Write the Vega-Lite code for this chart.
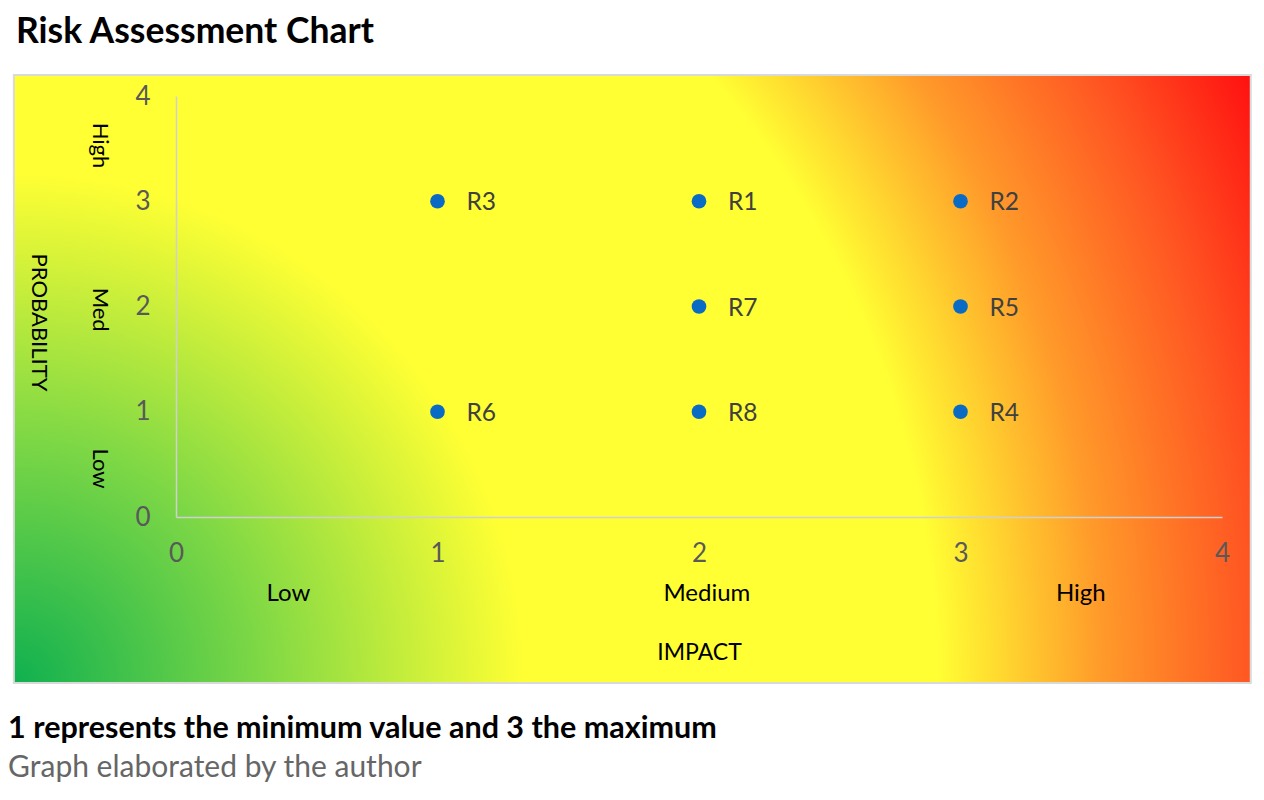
{
  "$schema": "https://vega.github.io/schema/vega-lite/v6.json",
  "width": 1046,
  "height": 421,
  "autosize": {"type": "none"},
  "padding": {"left": 176, "top": 96, "right": 42, "bottom": 283},
  "background": "white",
  "title": {"text": "Risk Assessment Chart", "anchor": "start", "frame": "group", "dx": -160, "dy": 45, "offset": 40, "baseline": "alphabetic", "fontSize": 35.5, "font": "Lato", "fontWeight": "bold", "color": "black"},
  "config": {"font": "Lato", "view": {"stroke": null}},
  "datasets": {
    "risks": [
      {"risk": "R1", "impact": 2, "probability": 3},
      {"risk": "R2", "impact": 3, "probability": 3},
      {"risk": "R3", "impact": 1, "probability": 3},
      {"risk": "R4", "impact": 3, "probability": 1},
      {"risk": "R5", "impact": 3, "probability": 2},
      {"risk": "R6", "impact": 1, "probability": 1},
      {"risk": "R7", "impact": 2, "probability": 2},
      {"risk": "R8", "impact": 2, "probability": 1}
    ],
    "impactLevels": [
      {"label": "Low", "impact": 0.43, "probability": -0.73},
      {"label": "Medium", "impact": 2.03, "probability": -0.73},
      {"label": "High", "impact": 3.46, "probability": -0.73}
    ],
    "probabilityLevels": [
      {"label": "High", "impact": -0.29, "probability": 3.53},
      {"label": "Med", "impact": -0.29, "probability": 1.97},
      {"label": "Low", "impact": -0.29, "probability": 0.46}
    ],
    "notes": [
      {"note": "1 represents the minimum value and 3 the maximum", "impact": -0.642, "probability": -2.014},
      {"note": "Graph elaborated by the author", "impact": -0.642, "probability": -2.385}
    ]
  },
  "layer": [
    {
      "data": {"values": [{}]},
      "mark": {
        "type": "rect",
        "stroke": "#D9D9D9",
        "strokeWidth": 2,
        "fill": {
          "gradient": "radial",
          "x1": 0, "y1": 0.7458, "r1": 0,
          "x2": 0, "y2": 0.7458, "r2": 1.114,
          "stops": [
            {"offset": 0, "color": "#0FB050"},
            {"offset": 0.18, "color": "#7FD845"},
            {"offset": 0.37, "color": "#FFFF33"},
            {"offset": 0.67, "color": "#FFFF33"},
            {"offset": 0.79, "color": "#FF9A2A"},
            {"offset": 0.9, "color": "#FF5522"},
            {"offset": 1, "color": "#FF1010"}
          ]
        }
      },
      "encoding": {
        "x": {"datum": -0.62, "type": "quantitative", "scale": {"domain": [0, 4], "nice": false}},
        "x2": {"datum": 4.11},
        "y": {"datum": 4.2, "type": "quantitative", "scale": {"domain": [0, 4], "nice": false}},
        "y2": {"datum": -1.577}
      }
    },
    {
      "data": {"name": "risks"},
      "mark": {"type": "point", "filled": true, "shape": "circle", "size": 215, "color": "#0A6BC5", "opacity": 1},
      "encoding": {
        "x": {
          "field": "impact", "type": "quantitative",
          "scale": {"domain": [0, 4], "nice": false},
          "axis": {
            "zindex": 1,
            "values": [0, 1, 2, 3, 4], "format": "d", "ticks": false, "grid": false, "labelFlush": false,
            "domainColor": "#D0D0D0", "domainWidth": 1.5,
            "labelFontSize": 26, "labelColor": "#595959", "labelPadding": 23, "labelFont": "Lato",
            "title": "IMPACT", "titleFontSize": 23, "titleFontWeight": "normal", "titleColor": "black", "titleFont": "Lato",
            "titleY": 135, "titleBaseline": "middle"
          }
        },
        "y": {
          "field": "probability", "type": "quantitative",
          "scale": {"domain": [0, 4], "nice": false},
          "axis": {
            "zindex": 1,
            "values": [0, 1, 2, 3, 4], "format": "d", "ticks": false, "grid": false, "labelFlush": false,
            "domainColor": "#D0D0D0", "domainWidth": 1.5,
            "labelFontSize": 26, "labelColor": "#595959", "labelPadding": 26, "labelFont": "Lato",
            "title": "PROBABILITY", "titleFontSize": 22, "titleFontWeight": "normal", "titleColor": "black", "titleFont": "Lato",
            "titleAngle": 90, "titleX": -138, "titleY": 226, "titleBaseline": "middle"
          }
        }
      }
    },
    {
      "data": {"name": "risks"},
      "mark": {"type": "text", "align": "left", "baseline": "middle", "dx": 29, "dy": 2, "fontSize": 24.5, "color": "#404040", "font": "Lato"},
      "encoding": {
        "x": {"field": "impact", "type": "quantitative"},
        "y": {"field": "probability", "type": "quantitative"},
        "text": {"field": "risk"}
      }
    },
    {
      "data": {"name": "impactLevels"},
      "mark": {"type": "text", "align": "center", "baseline": "middle", "fontSize": 24, "color": "black", "font": "Lato"},
      "encoding": {
        "x": {"field": "impact", "type": "quantitative"},
        "y": {"field": "probability", "type": "quantitative"},
        "text": {"field": "label"}
      }
    },
    {
      "data": {"name": "probabilityLevels"},
      "mark": {"type": "text", "align": "center", "baseline": "middle", "angle": 90, "fontSize": 22, "color": "black", "font": "Lato"},
      "encoding": {
        "x": {"field": "impact", "type": "quantitative"},
        "y": {"field": "probability", "type": "quantitative"},
        "text": {"field": "label"}
      }
    },
    {
      "data": {"name": "notes"},
      "transform": [{"filter": "datum.note == '1 represents the minimum value and 3 the maximum'"}],
      "mark": {"type": "text", "align": "left", "baseline": "middle", "fontSize": 30.5, "fontWeight": "bold", "color": "black", "font": "Lato"},
      "encoding": {
        "x": {"field": "impact", "type": "quantitative"},
        "y": {"field": "probability", "type": "quantitative"},
        "text": {"field": "note"}
      }
    },
    {
      "data": {"name": "notes"},
      "transform": [{"filter": "datum.note == 'Graph elaborated by the author'"}],
      "mark": {"type": "text", "align": "left", "baseline": "middle", "fontSize": 30, "color": "#666666", "font": "Lato"},
      "encoding": {
        "x": {"field": "impact", "type": "quantitative"},
        "y": {"field": "probability", "type": "quantitative"},
        "text": {"field": "note"}
      }
    }
  ]
}
